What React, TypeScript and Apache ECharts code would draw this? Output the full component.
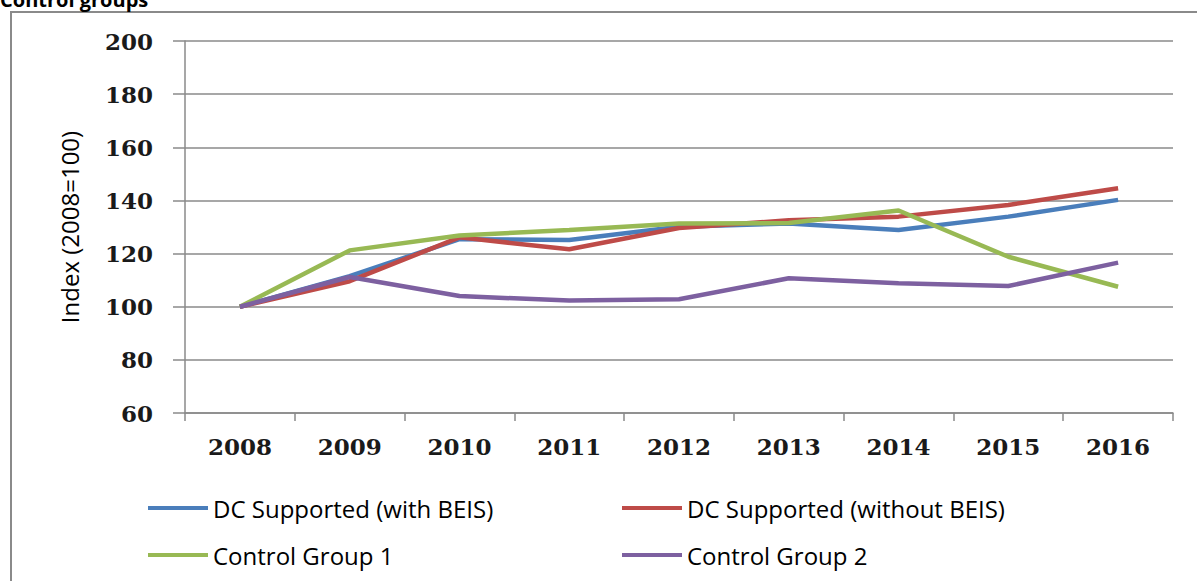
import React, { useEffect, useRef } from "react";
import * as echarts from "echarts";

const years = ["2008", "2009", "2010", "2011", "2012", "2013", "2014", "2015", "2016"];
const withBEIS = [100, 111.5, 125.4, 125.1, 130.1, 131.3, 128.9, 133.9, 140.2];
const withoutBEIS = [100, 109.6, 126.1, 121.6, 129.6, 132.5, 133.9, 138.3, 144.6];
const controlGroup1 = [100, 121.2, 126.8, 128.9, 131.3, 131.5, 136.2, 118.8, 107.5];
const controlGroup2 = [100, 111.2, 104.0, 102.3, 102.8, 110.7, 108.8, 107.8, 116.6];

const seriesNames = [
  "DC Supported (with BEIS)",
  "DC Supported (without BEIS)",
  "Control Group 1",
  "Control Group 2",
];
const seriesColors = ["#4A7EBB", "#BE4B48", "#98B954", "#7D60A0"];
const seriesData = [withBEIS, withoutBEIS, controlGroup1, controlGroup2];

export default function App() {
  const ref = useRef<HTMLDivElement>(null);
  useEffect(() => {
    if (!ref.current) return;
    const chart = echarts.init(ref.current, null, { renderer: "svg" });
    const legendText = {
      fontFamily: "Open Sans",
      fontSize: 24,
      color: "#000",
      lineHeight: 30,
    };
    const legendBase = {
      top: 488,
      orient: "vertical",
      icon: "rect",
      itemWidth: 60,
      itemHeight: 4,
      itemGap: 17,
      textStyle: legendText,
    };
    chart.setOption({
      animation: false,
      backgroundColor: "#fff",
      graphic: [
        {
          type: "text",
          left: 0,
          top: -11,
          style: {
            text: "Control groups",
            font: "bold 20px 'Open Sans'",
            fill: "#000",
          },
        },
        {
          type: "rect",
          shape: { x: 11, y: 12, width: 1200, height: 600 },
          style: { fill: "none", stroke: "#8a8a8a", lineWidth: 2 },
          z: -1,
        },
      ],
      grid: { left: 185, right: 24, top: 41, bottom: 168, containLabel: false },
      legend: [
        { ...legendBase, left: 143, data: [seriesNames[0], seriesNames[2]] },
        { ...legendBase, left: 617, data: [seriesNames[1], seriesNames[3]] },
      ],
      xAxis: {
        type: "category",
        data: years,
        boundaryGap: true,
        axisLine: { lineStyle: { color: "#8a8a8a", width: 1.5 } },
        axisTick: { show: true, length: 8, inside: false, lineStyle: { color: "#8a8a8a", width: 1.5 } },
        axisLabel: {
          margin: 22,
          fontFamily: "DejaVu Serif",
          fontWeight: "bold",
          fontSize: 23,
          color: "#1a1a1a",
        },
        splitLine: { show: false },
      },
      yAxis: {
        type: "value",
        min: 60,
        max: 200,
        interval: 20,
        name: "Index (2008=100)",
        nameLocation: "middle",
        nameGap: 104,
        nameRotate: 90,
        nameTextStyle: { fontFamily: "Open Sans", fontSize: 24, color: "#000" },
        axisLine: { show: true, lineStyle: { color: "#8a8a8a", width: 1.5 } },
        axisTick: { show: true, length: 12, inside: false, lineStyle: { color: "#8a8a8a", width: 1.5 } },
        axisLabel: {
          margin: 32,
          fontFamily: "DejaVu Serif",
          fontWeight: "bold",
          fontSize: 23,
          color: "#1a1a1a",
        },
        splitLine: { show: true, lineStyle: { color: "#8a8a8a", width: 1.5 } },
      },
      series: seriesNames.map((name, i) => ({
        name,
        type: "line",
        data: seriesData[i],
        symbol: "none",
        color: seriesColors[i],
        lineStyle: { color: seriesColors[i], width: 4.5 },
      })),
    });
    return () => chart.dispose();
  }, []);
  return (
    <div
      ref={ref}
      style={{ position: "fixed", left: 0, top: 0, width: 1197, height: 581 }}
    />
  );
}
